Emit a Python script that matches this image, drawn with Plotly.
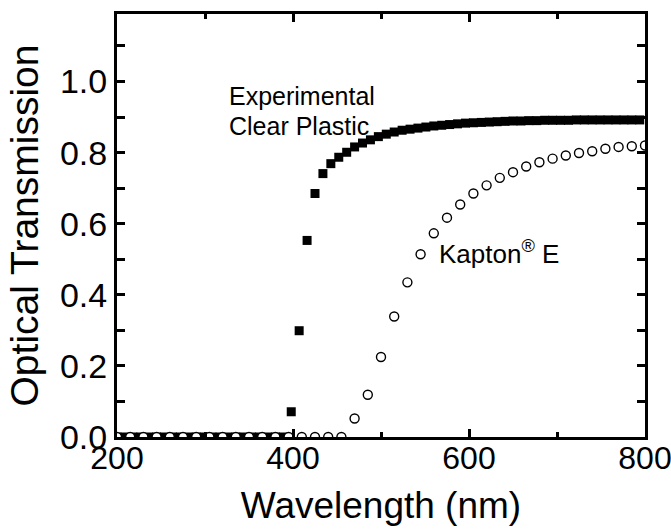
import plotly.graph_objects as go

# Experimental Clear Plastic (filled squares), wavelength step 9 nm
plastic_x = list(range(200, 795, 9))
plastic_y = [0.0] * 22 + [
    0.071, 0.299, 0.553, 0.685, 0.741, 0.769, 0.787, 0.801, 0.816, 0.827,
    0.836, 0.845, 0.852, 0.858, 0.863, 0.866, 0.869, 0.872, 0.875, 0.877,
    0.879, 0.881, 0.883, 0.884, 0.885, 0.886, 0.887, 0.888, 0.889, 0.889,
    0.890, 0.890, 0.891, 0.891, 0.891, 0.891, 0.892, 0.892, 0.892, 0.892,
    0.892, 0.892, 0.892, 0.892, 0.892,
]

# Kapton E (open circles), wavelength step 15 nm
kapton_x = list(range(200, 801, 15))
kapton_y = [0.0] * 18 + [
    0.052, 0.119, 0.225, 0.339, 0.435, 0.514, 0.573, 0.617, 0.654, 0.685,
    0.708, 0.729, 0.745, 0.761, 0.773, 0.783, 0.792, 0.799, 0.804, 0.811,
    0.816, 0.818, 0.820,
]

x_ticks = [200, 400, 600, 800]
y_ticks = [0.0, 0.2, 0.4, 0.6, 0.8, 1.0]

FONT = "Liberation Sans, Arial, sans-serif"

fig = go.Figure()
fig.add_trace(go.Scatter(
    x=plastic_x, y=plastic_y, mode="markers", name="Experimental Clear Plastic",
    marker=dict(symbol="square", size=9, color="black", line=dict(width=0)),
))
fig.add_trace(go.Scatter(
    x=kapton_x, y=kapton_y, mode="markers", name="Kapton E",
    marker=dict(symbol="circle", size=9, color="white",
                line=dict(width=1.4, color="black")),
))

axis_common = dict(
    showline=True, linecolor="black", linewidth=3, mirror="ticks",
    ticks="inside", tickcolor="black", tickwidth=2.5, ticklen=8,
    showgrid=False, zeroline=False, automargin=False,
    ticklabeloverflow="allow",
)

fig.update_xaxes(
    range=[200, 800], tickmode="array", tickvals=x_ticks,
    ticktext=[str(v) for v in x_ticks],
    tickfont=dict(family=FONT, size=32, color="black"),
    ticklabelstandoff=-9,
    minor=dict(dtick=100, tick0=200, ticks="inside", ticklen=5,
               tickwidth=2.5, tickcolor="black"),
    title=dict(text="Wavelength (nm)", standoff=17,
               font=dict(family=FONT, size=37, color="black")),
    **axis_common,
)
fig.update_yaxes(
    range=[0, 1.19], tickmode="array", tickvals=y_ticks,
    ticktext=[f"{v:.1f}" for v in y_ticks],
    tickfont=dict(family=FONT, size=34, color="black"),
    minor=dict(dtick=0.1, tick0=0, ticks="inside", ticklen=8,
               tickwidth=2.5, tickcolor="black"),
    title=dict(text="Optical Transmission", standoff=10,
               font=dict(family=FONT, size=39, color="black")),
    **axis_common,
)

ann_font = dict(family=FONT, size=25, color="black")
fig.add_annotation(x=325, y=0.96, xref="x", yref="y", text="Experimental",
                   showarrow=False, xanchor="left", yanchor="middle", font=ann_font)
fig.add_annotation(x=325, y=0.875, xref="x", yref="y", text="Clear Plastic",
                   showarrow=False, xanchor="left", yanchor="middle", font=ann_font)
fig.add_annotation(x=564, y=0.52, xref="x", yref="y", text="Kapton<sup>®</sup> E",
                   showarrow=False, xanchor="left", yanchor="middle",
                   font=dict(family=FONT, size=26, color="black"))

fig.update_layout(
    width=671, height=531,
    margin=dict(l=117, r=26, t=14, b=94),
    paper_bgcolor="white", plot_bgcolor="white",
    showlegend=False,
)

fig.write_html("out.html")
